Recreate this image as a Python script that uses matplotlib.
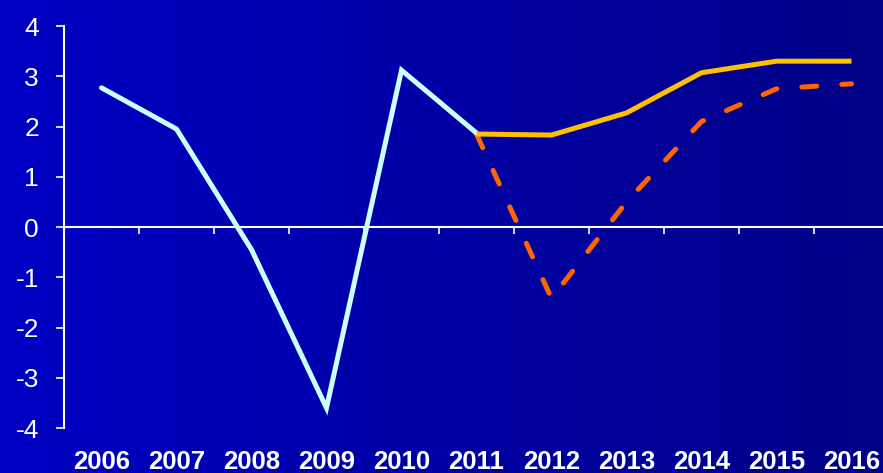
import numpy as np
import matplotlib.pyplot as plt
from matplotlib.colors import LinearSegmentedColormap

plt.rcParams['font.family'] = ['Liberation Sans', 'DejaVu Sans']

years = ["2006", "2007", "2008", "2009", "2010", "2011",
         "2012", "2013", "2014", "2015", "2016"]
history = [2.77, 1.95, -0.45, -3.6, 3.12, 1.87]
baseline = [1.85, 1.83, 2.27, 3.07, 3.3, 3.3]
adverse = [1.85, -1.42, 0.5, 2.1, 2.75, 2.85]

fig = plt.figure(figsize=(8.83, 4.73), dpi=100)

# gradient backdrop, bright blue on the left fading to navy
bg = fig.add_axes([0, 0, 1, 1], zorder=0)
cmap = LinearSegmentedColormap.from_list("bg", ["#0000C4", "#000086"])
bg.imshow(np.linspace(0, 1, 256).reshape(1, -1), aspect="auto", cmap=cmap,
          extent=[0, 1, 0, 1])
bg.set_axis_off()

ax = fig.add_axes([64 / 883, 1 - 428 / 473, 825 / 883, 402 / 473], zorder=1)
ax.patch.set_alpha(0)

x = np.arange(len(years))
ax.plot(x[:6], history, color="#CCFFFF", linewidth=3.6, solid_capstyle="round",
        solid_joinstyle="miter", zorder=3)
ax.plot(x[5:], baseline, color="#FFC000", linewidth=3.6, solid_capstyle="butt",
        zorder=4)
ax.plot(x[5:], adverse, color="#FF6600", linewidth=3.6, dashes=(3, 5),
        dash_capstyle="round", zorder=2)

ax.set_xlim(-0.5, len(years) - 0.5)
ax.set_ylim(-4, 4)
ax.set_yticks(range(-4, 5))
ax.set_yticklabels([str(v) for v in range(-4, 5)])
ax.tick_params(axis="y", colors="white", labelsize=19, length=6, width=1.2, pad=12)
ax.set_xticks(x)
ax.set_xticklabels(years, fontweight="bold")
ax.tick_params(axis="x", colors="white", labelsize=18.5, length=0, pad=16)

for side in ["top", "right", "bottom"]:
    ax.spines[side].set_visible(False)
ax.spines["left"].set_color("white")
ax.spines["left"].set_linewidth(1.5)

# zero line with category boundary ticks
ax.axhline(0, color="white", linewidth=1.5, zorder=1)
zero = ax.secondary_xaxis(0.5)
zero.set_xticks(np.arange(0.5, len(years) - 0.5))
zero.set_xticklabels([])
zero.tick_params(axis="x", colors="white", length=5, width=1.2, direction="in")
for s in zero.spines.values():
    s.set_visible(False)

plt.savefig("out.png", dpi=100)
